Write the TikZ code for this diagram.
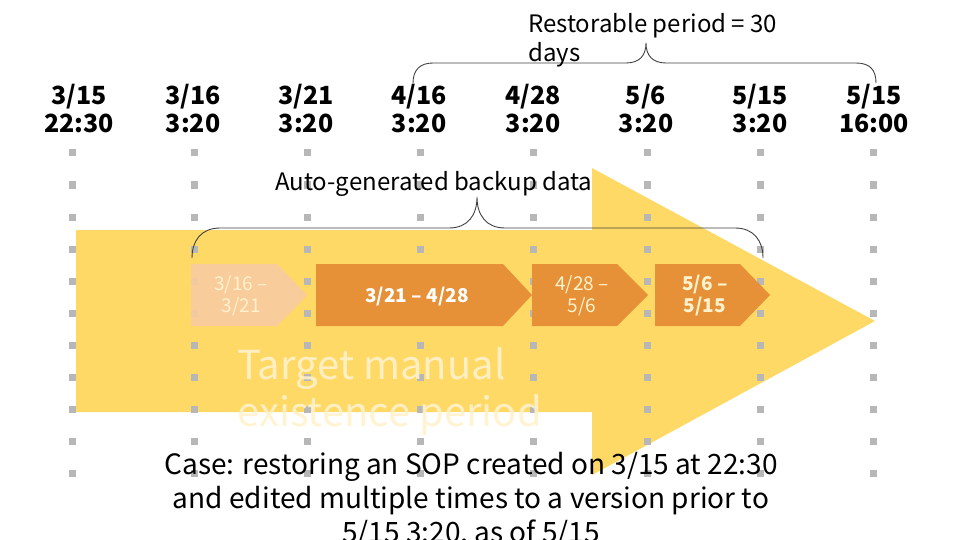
\documentclass[tikz,border=0pt]{standalone}
\usepackage{fontspec}
\setmainfont{Noto Sans CJK JP}
\definecolor{gold}{HTML}{FFD966}
\definecolor{orng}{HTML}{E69138}
\definecolor{peach}{HTML}{F8CBA0}
\definecolor{cream}{HTML}{FFF2CC}
\definecolor{dotgray}{HTML}{B7B7B7}
\definecolor{bracegray}{HTML}{404040}
\tikzset{
  datelbl/.style={anchor=base, align=center, inner sep=0pt, font=\fontsize{25}{28}\selectfont\bfseries},
  gdot/.style={fill=dotgray, minimum size=7pt, inner sep=0pt, draw=none},
  bracel/.style={draw=bracegray, line width=0.9pt},
  chevtxt/.style={anchor=base, align=center, inner sep=0pt, text=cream, font=\fontsize{19}{22}\selectfont},
  plaintxt/.style={anchor=base west, align=left, inner sep=0pt, font=\fontsize{24}{29}\selectfont},
}
\begin{document}
\begin{tikzpicture}[x=1pt,y=-1pt]
\useasboundingbox (0,0) rectangle (960,540);
% big arrow
\fill[gold] (76,230) -- (592,230) -- (592,168) -- (875,321) -- (592,475) -- (592,412) -- (76,412) -- cycle;
% dots
\foreach \x in {72,194,307,420,533,647,760,873}{
  \foreach \y in {153,185,217,249,281,313,345,377,409,441,473}{
    \node[gdot] at (\x,\y) {};
  }
}
% date labels (anchor = baseline of last line)
\node[datelbl] (d1) at (79,133) {3/15\\22:30};
\node[datelbl] (d2) at (193,133) {3/16\\3:20};
\node[datelbl] (d3) at (306,133) {3/21\\3:20};
\node[datelbl] (d4) at (419,133) {4/16\\3:20};
\node[datelbl] (d5) at (533,133) {4/28\\3:20};
\node[datelbl] (d6) at (646,133) {5/6\\3:20};
\node[datelbl] (d7) at (760,133) {5/15\\3:20};
\node[datelbl] (d8) at (874,133) {5/15\\16:00};
% chevrons
\fill[peach, opacity=0.92] (191,264) -- (277,264) -- (307,295) -- (277,326) -- (191,326) -- cycle;
\fill[orng] (316,264) -- (503,264) -- (532,295) -- (503,326) -- (316,326) -- cycle;
\fill[orng] (532,264) -- (617,264) -- (648,295) -- (617,326) -- (532,326) -- cycle;
\fill[orng] (655,264) -- (740,264) -- (770,295) -- (740,326) -- (655,326) -- cycle;
\node[chevtxt] (c1) at (241,312) {3/16 –\\3/21};
\node[chevtxt, text=white, font=\fontsize{19}{22}\selectfont\bfseries] (c2) at (417,302) {3/21 – 4/28};
\node[chevtxt] (c3) at (582,312) {4/28 –\\5/6};
\node[chevtxt, font=\fontsize{19}{22}\selectfont\bfseries] (c4) at (705,312) {5/6 –\\5/15};
% target text
\node[anchor=base west, align=left, inner sep=0pt, text=cream, opacity=0.9, font=\fontsize{40}{47}\selectfont] (tgt) at (237,426) {Target manual\\existence period};
% braces
\draw[bracel] (413,83) .. controls (413,70) and (420,63) .. (433,63) -- (626,63)
  .. controls (640,63) and (646,55) .. (646,43)
  .. controls (646,55) and (652,63) .. (666,63) -- (856,63)
  .. controls (870,63) and (876,70) .. (876,83);
\draw[bracel] (192,258) .. controls (192,241) and (201,228) .. (220,228) -- (449,228)
  .. controls (468,228) and (477,215) .. (477,197)
  .. controls (477,215) and (486,228) .. (505,228) -- (735,228)
  .. controls (754,228) and (763,241) .. (763,258);
\node[plaintxt] (rest) at (528,62) {Restorable period = 30\\days};
\node[plaintxt] (auto) at (275,190) {Auto-generated backup data};
% case text
\node[anchor=base, align=center, inner sep=0pt, font=\fontsize{28}{34}\selectfont] (case) at (471,542) {Case: restoring an SOP created on 3/15 at 22:30\\and edited multiple times to a version prior to\\5/15 3:20, as of 5/15};
\end{tikzpicture}
\end{document}
